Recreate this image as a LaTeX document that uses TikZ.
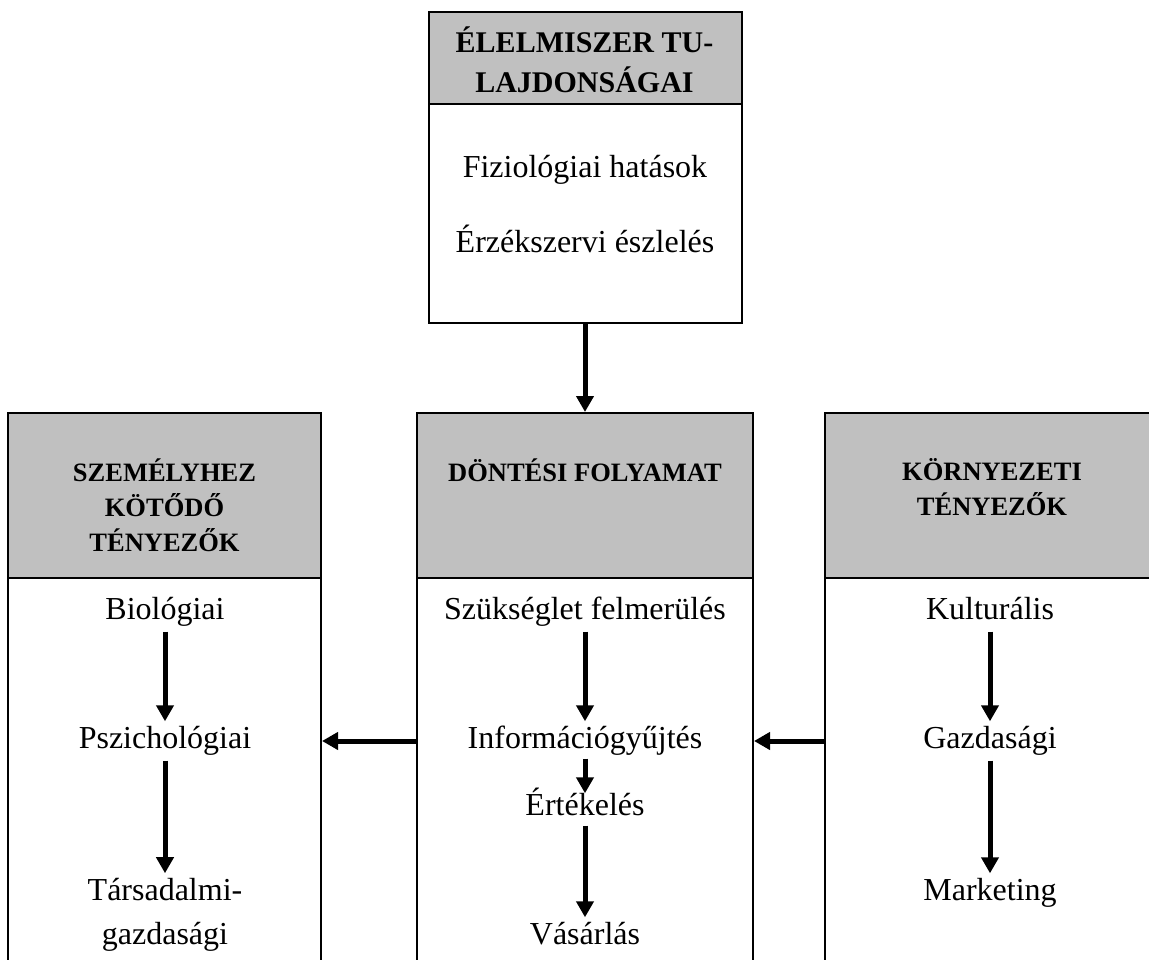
\documentclass[tikz,border=0pt]{standalone}
\usepackage{fontspec}
\setmainfont{Liberation Serif}
\usetikzlibrary{arrows.meta,calc}
\definecolor{hdrgray}{HTML}{C0C0C0}
\tikzset{
  hbox/.style={rectangle, draw=black, line width=2pt, fill=hdrgray, inner sep=0pt},
  bbox/.style={rectangle, draw=black, line width=2pt, fill=white, inner sep=0pt},
  bodytxt/.style={font=\fontsize{32}{44}\selectfont, inner sep=0pt, text height=22pt, text depth=7pt},
  bodytwo/.style={font=\fontsize{32}{44}\selectfont, inner sep=0pt, align=center},
  hdrtxt/.style={font=\bfseries\fontsize{26.5}{35}\selectfont, inner sep=0pt, align=center},
  tophdrtxt/.style={font=\bfseries\fontsize{30}{40}\selectfont, inner sep=0pt, align=center},
  arr/.style={line width=5pt, -{Triangle[length=16pt,width=17pt]}},
  varr/.style={arr, shorten <=5pt, shorten >=5pt}
}
\begin{document}
\begin{tikzpicture}[x=1pt,y=-1pt]
\path[use as bounding box] (0,0) rectangle (1149,960);
\clip (0,0) rectangle (1149,960);
% top box
\node[hbox, minimum width=313pt, minimum height=92pt] (tophead) at (585,58) {};
\node[bbox, minimum width=313pt, minimum height=219pt] (topbody) at (585,213.5) {};
% left box
\node[hbox, minimum width=313pt, minimum height=165pt] (lefthead) at (164.5,495.5) {};
\node[bbox, minimum width=313pt, minimum height=401pt] (leftbody) at (164.5,778.5) {};
% middle box
\node[hbox, minimum width=336pt, minimum height=165pt] (midhead) at (585,495.5) {};
\node[bbox, minimum width=336pt, minimum height=401pt] (midbody) at (585,778.5) {};
% right box
\node[hbox, minimum width=340pt, minimum height=165pt] (righthead) at (995,495.5) {};
\node[bbox, minimum width=340pt, minimum height=401pt] (rightbody) at (995,778.5) {};
% header texts
\node[tophdrtxt] (toptitle) at (584.5,60) {ÉLELMISZER TU-\\LAJDONSÁGAI};
\node[hdrtxt] (lefttitle) at (164.5,505) {SZEMÉLYHEZ\\KÖTŐDŐ\\TÉNYEZŐK};
\node[hdrtxt] (midtitle) at (585,470) {DÖNTÉSI FOLYAMAT};
\node[hdrtxt] (righttitle) at (992,487) {KÖRNYEZETI\\TÉNYEZŐK};
% top body texts
\node[bodytxt] (fiz) at (585,170) {Fiziológiai hatások};
\node[bodytxt] (erz) at (585,245) {Érzékszervi észlelés};
% left body texts
\node[bodytxt] (bio) at (165,612) {Biológiai};
\node[bodytxt] (psz) at (165,741) {Pszichológiai};
\node[bodytwo] (tars) at (165,915) {Társadalmi-\\gazdasági};
% middle body texts
\node[bodytxt] (szuk) at (585,612) {Szükséglet felmerülés};
\node[bodytxt] (info) at (585,741) {Információgyűjtés};
\node[bodytxt] (ert) at (585,808) {Értékelés};
\node[bodytxt] (vas) at (585,937) {Vásárlás};
% right body texts
\node[bodytxt] (kult) at (990,612) {Kulturális};
\node[bodytxt] (gazd) at (990,741) {Gazdasági};
\node[bodytxt] (mark) at (990,893) {Marketing};
% connectors
\draw[arr] (topbody.south) -- (midhead.north);
\draw[varr] (bio) -- (psz);
\draw[varr] (psz) -- (tars);
\draw[varr] (szuk) -- (info);
\draw[varr, shorten <=3pt, shorten >=0pt] (info) -- (ert);
\draw[varr, shorten <=3pt] (ert) -- (vas);
\draw[varr] (kult) -- (gazd);
\draw[varr] (gazd) -- (mark);
\draw[arr] (midbody.west |- info) -- (leftbody.east |- info);
\draw[arr] (rightbody.west |- gazd) -- (midbody.east |- gazd);
\end{tikzpicture}
\end{document}
